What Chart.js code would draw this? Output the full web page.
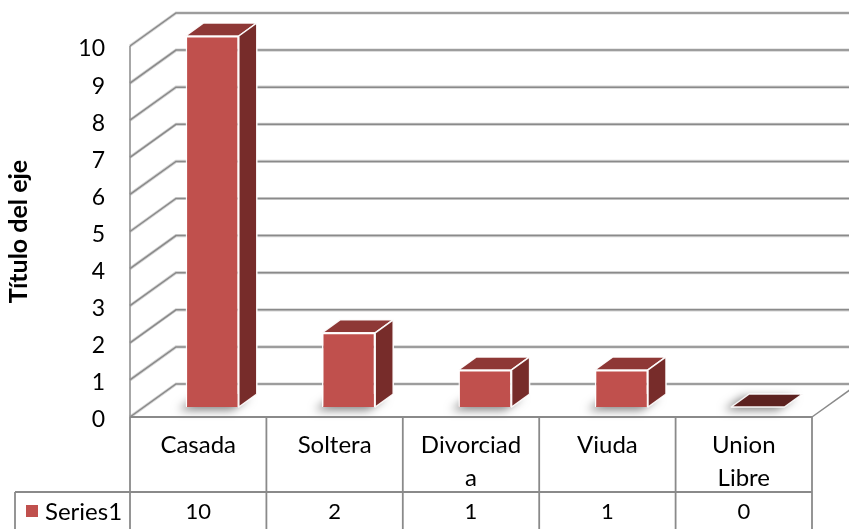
<!DOCTYPE html>
<html>
<head>
<meta charset="utf-8">
<script src="https://cdn.jsdelivr.net/npm/chart.js@4.4.0/dist/chart.umd.min.js"></script>
<style>
  html, body { margin: 0; padding: 0; background: #fff; }
  canvas { display: block; }
</style>
</head>
<body>
<canvas id="estadoCivil" width="849" height="529"></canvas>
<script>
// datos
const categorias = [['Casada'], ['Soltera'], ['Divorciad', 'a'], ['Viuda'], ['Union', 'Libre']];
const valores = [10, 2, 1, 1, 0];
const nombreSerie = 'Series1';
const tituloEje = 'Título del eje';
const ejeMin = 0;
const ejeMax = 10;
const ejePaso = 1;

// colores y profundidad del efecto 3D
const rojo = '#C0504D';
const rojoLado = '#772C2A';
const rojoTecho = '#8E3836';
const rojoPiso = '#5C2220';
const gris = '#8a8a8a';
const fondoX = 46, fondoY = -33;   // profundidad de paredes
const barraX = 14, barraY = -10;   // desplazamiento de la cara frontal
const profX = 18, profY = -13;     // grosor de la barra
const fuente = 'Lato';

function linea(ctx, x1, y1, x2, y2) {
  ctx.beginPath();
  ctx.moveTo(x1, y1);
  ctx.lineTo(x2, y2);
  ctx.stroke();
}

const paredes = {
  id: 'paredes',
  beforeDatasetsDraw(chart) {
    const ctx = chart.ctx;
    const a = chart.chartArea;
    const y = chart.scales.y;
    ctx.save();
    // lineas de division en pared lateral y de fondo
    for (let v = ejeMin; v <= ejeMax; v += ejePaso) {
      const py = y.getPixelForValue(v);
      [[3.2, '#d4d4d4'], [1.5, gris]].forEach(([w, c]) => {
        ctx.lineWidth = w;
        ctx.strokeStyle = c;
        ctx.beginPath();
        ctx.moveTo(a.left, py);
        ctx.lineTo(a.left + fondoX, py + fondoY);
        ctx.lineTo(chart.width + 5, py + fondoY);
        ctx.stroke();
      });
    }
    // borde del piso y pared lateral
    ctx.lineWidth = 1.5;
    ctx.strokeStyle = gris;
    linea(ctx, a.right, a.bottom, a.right + fondoX, a.bottom + fondoY);
    linea(ctx, a.left, y.getPixelForValue(ejeMax), a.left, a.bottom);

    // sombras sobre el piso
    const meta = chart.getDatasetMeta(0);
    meta.data.forEach((bar, i) => {
      const x0 = bar.x - bar.width / 2 + barraX;
      const x1 = bar.x + bar.width / 2 + barraX;
      const b = bar.base + barraY;
      ctx.save();
      ctx.shadowColor = 'rgba(0,0,0,0.5)';
      ctx.shadowBlur = 10;
      ctx.shadowOffsetX = -7;
      ctx.shadowOffsetY = 3;
      ctx.fillStyle = valores[i] === 0 ? rojoPiso : rojo;
      ctx.beginPath();
      ctx.moveTo(x0, b);
      ctx.lineTo(x1, b);
      ctx.lineTo(x1 + profX, b + profY);
      ctx.lineTo(x0 + profX, b + profY);
      ctx.closePath();
      ctx.fill();
      ctx.restore();
    });
    ctx.restore();

    // la cara frontal de las barras se dibuja desplazada hacia el fondo
    ctx.save();
    ctx.translate(barraX, barraY);
  },
  afterDatasetsDraw(chart) {
    const ctx = chart.ctx;
    const meta = chart.getDatasetMeta(0);
    ctx.lineWidth = 1.5;
    ctx.strokeStyle = 'rgba(255,255,255,0.95)';
    ctx.lineJoin = 'round';
    meta.data.forEach((bar, i) => {
      const x0 = bar.x - bar.width / 2;
      const x1 = bar.x + bar.width / 2;
      const top = bar.y;
      const base = bar.base;
      // techo
      ctx.fillStyle = valores[i] === 0 ? rojoPiso : rojoTecho;
      ctx.beginPath();
      ctx.moveTo(x0, top);
      ctx.lineTo(x0 + profX, top + profY);
      ctx.lineTo(x1 + profX, top + profY);
      ctx.lineTo(x1, top);
      ctx.closePath();
      ctx.fill();
      ctx.stroke();
      // lado derecho
      if (base - top > 0.5) {
        ctx.fillStyle = rojoLado;
        ctx.beginPath();
        ctx.moveTo(x1, top);
        ctx.lineTo(x1 + profX, top + profY);
        ctx.lineTo(x1 + profX, base + profY);
        ctx.lineTo(x1, base);
        ctx.closePath();
        ctx.fill();
        ctx.stroke();
      }
    });
    ctx.restore();
  },
  afterDraw(chart) {
    // tabla de datos bajo el eje
    const ctx = chart.ctx;
    const a = chart.chartArea;
    const x = chart.scales.x;
    const ancho = (a.right - a.left) / valores.length;
    const filaY = 492;
    ctx.save();
    ctx.strokeStyle = gris;
    ctx.lineWidth = 1.8;
    linea(ctx, a.left, a.bottom, a.right, a.bottom);
    for (let i = 0; i <= valores.length; i++) {
      const px = a.left + i * ancho;
      linea(ctx, px, a.bottom, px, chart.height);
    }
    linea(ctx, 15, filaY, a.right, filaY);
    linea(ctx, 15, filaY, 15, chart.height);

    ctx.fillStyle = '#000';
    ctx.font = '22px ' + fuente;
    ctx.textAlign = 'center';
    ctx.textBaseline = 'middle';
    valores.forEach((v, i) => {
      ctx.fillText(String(v), x.getPixelForValue(i), 512);
    });
    ctx.fillStyle = rojo;
    ctx.fillRect(26, 505, 12, 12);
    ctx.fillStyle = '#000';
    ctx.font = '24px ' + fuente;
    ctx.textAlign = 'left';
    ctx.fillText(nombreSerie, 45, 512);
    ctx.restore();
  }
};

const ctx = document.getElementById('estadoCivil').getContext('2d');
const grafico = new Chart(ctx, {
  type: 'bar',
  data: {
    labels: categorias,
    datasets: [{
      label: nombreSerie,
      data: valores,
      backgroundColor: rojo,
      borderColor: 'rgba(255,255,255,0.95)',
      borderWidth: 1.5,
      barPercentage: 0.39,
      categoryPercentage: 1,
      clip: false
    }]
  },
  options: {
    responsive: false,
    animation: false,
    devicePixelRatio: 1,
    layout: { padding: { top: 46, right: 37, left: 0, bottom: 0 } },
    plugins: {
      legend: { display: false },
      tooltip: { enabled: false }
    },
    scales: {
      x: {
        grid: { display: false },
        border: { display: false },
        ticks: {
          color: '#000',
          font: { family: fuente, size: 24, lineHeight: 1.375 },
          padding: 4,
          maxRotation: 0,
          autoSkip: false
        },
        afterFit: s => { s.height = 112; }
      },
      y: {
        min: ejeMin,
        max: ejeMax,
        grid: { display: false, drawTicks: false },
        border: { display: false },
        ticks: {
          stepSize: ejePaso,
          color: '#000',
          font: { family: fuente, size: 23 },
          padding: 25,
          labelOffset: 3
        },
        title: {
          display: true,
          text: tituloEje,
          color: '#000',
          font: { family: fuente, size: 25, weight: 'bold' },
          padding: { top: 4, bottom: 0 }
        },
        afterFit: s => { s.width = 130; }
      }
    }
  },
  plugins: [paredes]
});
</script>
</body>
</html>
